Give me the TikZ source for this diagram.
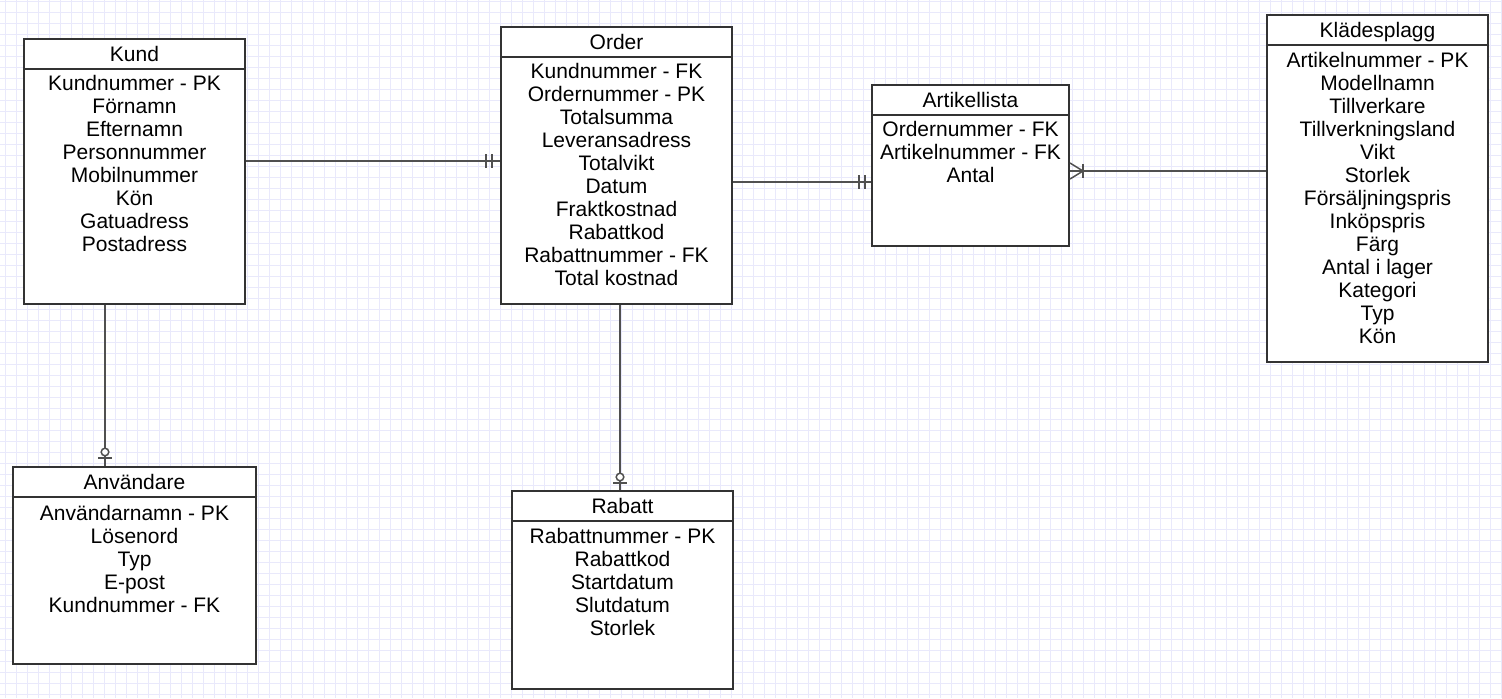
\documentclass[tikz,border=0pt]{standalone}
\usepackage{fontspec}
\setmainfont{Liberation Sans}
\usetikzlibrary{positioning,calc,backgrounds}
\definecolor{boxc}{RGB}{51,51,51}
\definecolor{linkc}{RGB}{80,80,80}
\definecolor{gridc}{RGB}{233,233,251}

\begin{document}
\begin{tikzpicture}[
  x=0.5pt, y=-0.5pt,
  font=\fontsize{10.5}{11.5}\selectfont,
  ent/.style={draw=boxc, line width=1pt, fill=white, inner sep=0pt, anchor=north west},
  hdr/.style={draw=boxc, line width=1pt, inner sep=0pt, minimum height=14.75pt,
              text height=7.5pt, text depth=0pt, anchor=north},
  attr/.style={align=center, inner sep=0pt},
  link/.style={draw=linkc, line width=0.75pt},
  opt/.style={link, fill=white}
]
\useasboundingbox (0,0) rectangle (1502,698);

% entities
\node[ent, minimum width=110.5pt, minimum height=132.5pt] (kund) at (23,38) {};
\node[hdr, minimum width=110.5pt] (kundh) at (kund.north) {Kund};
\node[attr, below=2.7pt of kundh] (kunda)
  {Kundnummer - PK\\Förnamn\\Efternamn\\Personnummer\\Mobilnummer\\Kön\\Gatuadress\\Postadress};

\node[ent, minimum width=115.5pt, minimum height=138.5pt] (order) at (500,26) {};
\node[hdr, minimum width=115.5pt] (orderh) at (order.north) {Order};
\node[attr, below=2.7pt of orderh] (ordera)
  {Kundnummer - FK\\Ordernummer - PK\\Totalsumma\\Leveransadress\\Totalvikt\\Datum\\Fraktkostnad\\Rabattkod\\Rabattnummer - FK\\Total kostnad};

\node[ent, minimum width=98.5pt, minimum height=80.5pt] (artl) at (871,84) {};
\node[hdr, minimum width=98.5pt] (artlh) at (artl.north) {Artikellista};
\node[attr, below=2.8pt of artlh] (artla)
  {Ordernummer - FK\\Artikelnummer - FK\\Antal};

\node[ent, minimum width=110.5pt, minimum height=173.5pt] (klad) at (1266,14) {};
\node[hdr, minimum width=110.5pt] (kladh) at (klad.north) {Klädesplagg};
\node[attr, below=3.1pt of kladh] (klada)
  {Artikelnummer - PK\\Modellnamn\\Tillverkare\\Tillverkningsland\\Vikt\\Storlek\\Försäljningspris\\Inköpspris\\Färg\\Antal i lager\\Kategori\\Typ\\Kön};

\node[ent, minimum width=121.5pt, minimum height=98.5pt] (anv) at (12,466) {};
\node[hdr, minimum width=121.5pt] (anvh) at (anv.north) {Användare};
\node[attr, below=3.6pt of anvh] (anva)
  {Användarnamn - PK\\Lösenord\\Typ\\E-post\\Kundnummer - FK};

\node[ent, minimum width=110.5pt, minimum height=99pt] (rab) at (511,490) {};
\node[hdr, minimum width=110.5pt] (rabh) at (rab.north) {Rabatt};
\node[attr, below=3.1pt of rabh] (raba)
  {Rabattnummer - PK\\Rabattkod\\Startdatum\\Slutdatum\\Storlek};

% relations
\coordinate (ko1) at (kund.east |- 0,161);
\coordinate (ko2) at (order.west |- 0,161);
\draw[link] (ko1) -- (ko2);
\draw[link] ($(ko2)+(-8,-7)$) -- ++(0,14);
\draw[link] ($(ko2)+(-14,-7)$) -- ++(0,14);

\coordinate (oa1) at (order.east |- 0,182);
\coordinate (oa2) at (artl.west |- 0,182);
\draw[link] (oa1) -- (oa2);
\draw[link] ($(oa2)+(-6,-7)$) -- ++(0,14);
\draw[link] ($(oa2)+(-12,-7)$) -- ++(0,14);

\coordinate (ak1) at (artl.east |- 0,171);
\coordinate (ak2) at (klad.west |- 0,171);
\draw[link] (ak1) -- (ak2);
\draw[link] ($(ak1)+(0,-8)$) -- ($(ak1)+(13,0)$) -- ($(ak1)+(0,8)$);
\draw[link] ($(ak1)+(13,-7)$) -- ++(0,14);

\coordinate (ka1) at (105,0 |- kund.south);
\coordinate (ka2) at (105,0 |- anv.north);
\draw[link] (ka1) -- (ka2);
\draw[link] ($(ka2)+(-7,-8)$) -- ++(14,0);
\draw[opt] ($(ka2)+(0,-14)$) circle[radius=1.9pt];

\coordinate (or1) at (620,0 |- order.south);
\coordinate (or2) at (620,0 |- rab.north);
\draw[link] (or1) -- (or2);
\draw[link] ($(or2)+(-7,-7)$) -- ++(14,0);
\draw[opt] ($(or2)+(0,-13)$) circle[radius=1.9pt];

% grid
\begin{scope}[on background layer]
  \fill[white] (0,0) rectangle (1502,698);
  \foreach \gx in {5,16,...,1502} \draw[gridc, line width=0.5pt] (\gx,0) -- (\gx,698);
  \foreach \gy in {1,12,...,698} \draw[gridc, line width=0.5pt] (0,\gy) -- (1502,\gy);
\end{scope}
\end{tikzpicture}
\end{document}
